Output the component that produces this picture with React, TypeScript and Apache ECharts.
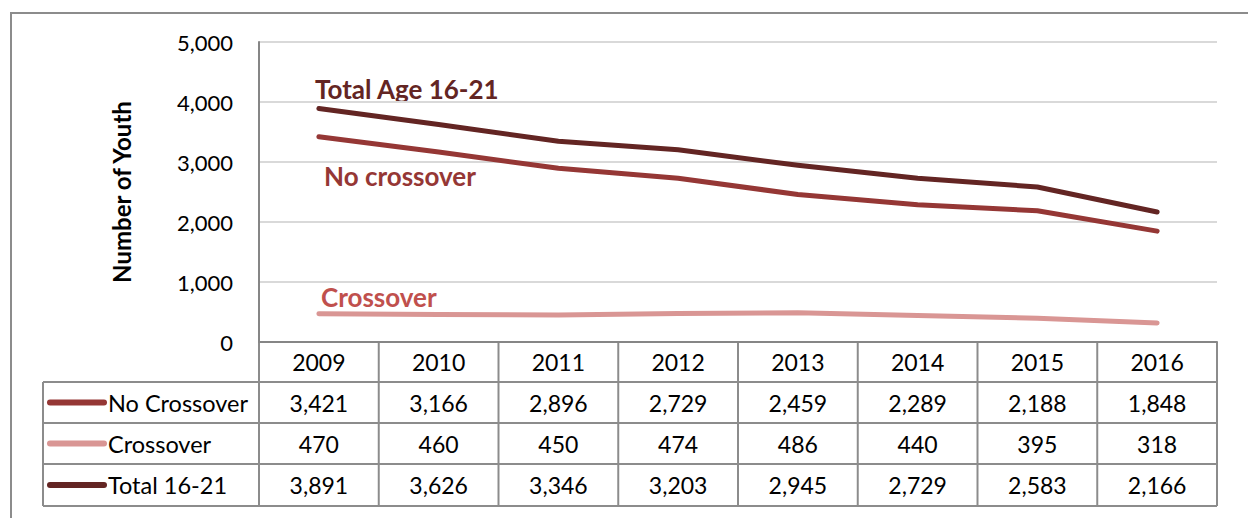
import React, { useEffect, useRef } from "react";
import * as echarts from "echarts";

const years = ["2009", "2010", "2011", "2012", "2013", "2014", "2015", "2016"];
const noCrossover = [3421, 3166, 2896, 2729, 2459, 2289, 2188, 1848];
const crossover = [470, 460, 450, 474, 486, 440, 395, 318];
const total = [3891, 3626, 3346, 3203, 2945, 2729, 2583, 2166];
const yTicks = [0, 1000, 2000, 3000, 4000, 5000];

const seriesDefs = [
  { name: "No Crossover", data: noCrossover, color: "#953735", label: "No crossover", labelColor: "#953735", lx: 324, ly: 176 },
  { name: "Crossover", data: crossover, color: "#D99694", label: "Crossover", labelColor: "#C0504D", lx: 321, ly: 297 },
  { name: "Total 16-21", data: total, color: "#632523", label: "Total Age 16-21", labelColor: "#632523", lx: 315, ly: 89 },
];

const FONT = "Lato, 'Open Sans', sans-serif";

export default function App() {
  const ref = useRef<HTMLDivElement>(null);
  useEffect(() => {
    if (!ref.current) return;
    const chart = echarts.init(ref.current, null, { renderer: "svg" });
    const gl = 259, gt = 42, gw = 958, gh = 300;
    const colW = gw / years.length;
    const rows = [342, 382, 423, 464, 506];
    const tableLeft = 43;
    const lineColor = "#8C8C8C";
    const g: any[] = [];
    g.push({ type: "rect", shape: { x: 11, y: 13, width: 1300, height: 600 }, style: { fill: "none", stroke: "#8C8C8C", lineWidth: 2 }, silent: true });
    for (let r = 1; r < rows.length; r++) {
      g.push({ type: "line", shape: { x1: tableLeft, y1: rows[r], x2: gl + gw, y2: rows[r] }, style: { stroke: lineColor, lineWidth: 2 } });
    }
    for (let c = 0; c <= years.length; c++) {
      const x = gl + colW * c;
      g.push({ type: "line", shape: { x1: x, y1: rows[0], x2: x, y2: rows[4] }, style: { stroke: lineColor, lineWidth: 2 } });
    }
    g.push({ type: "line", shape: { x1: tableLeft, y1: rows[1], x2: tableLeft, y2: rows[4] }, style: { stroke: lineColor, lineWidth: 2 } });
    years.forEach((y, i) => {
      g.push({ type: "text", x: gl + colW * (i + 0.5), y: (rows[0] + rows[1]) / 2, style: { text: y, font: `23px ${FONT}`, fill: "#000", align: "center", verticalAlign: "middle" } });
    });
    seriesDefs.forEach((s, r) => {
      const cy = (rows[r + 1] + rows[r + 2]) / 2;
      g.push({ type: "line", shape: { x1: 50, y1: cy, x2: 104, y2: cy }, style: { stroke: s.color, lineWidth: 6, lineCap: "round" } });
      g.push({ type: "text", x: 108, y: cy, style: { text: s.name, font: `23.5px ${FONT}`, fill: "#000", align: "left", verticalAlign: "middle" } });
      s.data.forEach((v, i) => {
        g.push({ type: "text", x: gl + colW * (i + 0.5), y: cy, style: { text: v.toLocaleString("en-US"), font: `23px ${FONT}`, fill: "#000", align: "center", verticalAlign: "middle" } });
      });
      g.push({ type: "text", x: s.lx, y: s.ly, style: { text: s.label, font: `bold 26px ${FONT}`, fill: s.labelColor, align: "left", verticalAlign: "middle" } });
    });

    chart.setOption({
      animation: false,
      grid: { left: gl, top: gt, width: gw, height: gh, containLabel: false },
      xAxis: {
        type: "category",
        data: years,
        boundaryGap: true,
        axisLine: { show: true, lineStyle: { color: "#868686", width: 2 } },
        axisTick: { show: false },
        axisLabel: { show: false },
        splitLine: { show: false },
      },
      yAxis: {
        type: "value",
        min: yTicks[0],
        max: yTicks[yTicks.length - 1],
        interval: 1000,
        name: "Number of Youth",
        nameLocation: "middle",
        nameGap: 126,
        nameTextStyle: { fontFamily: FONT, fontWeight: "bold", fontSize: 24, color: "#000" },
        axisLine: { show: true, lineStyle: { color: "#868686", width: 2 } },
        axisTick: { show: false },
        axisLabel: {
          margin: 26,
          fontFamily: FONT,
          fontSize: 22,
          color: "#000",
          formatter: (v: number) => v.toLocaleString("en-US"),
        },
        splitLine: { show: true, lineStyle: { color: "#D9D9D9", width: 2 } },
      },
      series: seriesDefs.map((s) => ({
        name: s.name,
        type: "line",
        data: s.data,
        symbol: "none",
        lineStyle: { color: s.color, width: 5, cap: "round", join: "round" },
        z: 3,
      })),
      graphic: g,
    });
    return () => chart.dispose();
  }, []);
  return <div ref={ref} style={{ position: "fixed", left: 0, top: 0, width: 1248, height: 518, background: "#fff" }} />;
}
